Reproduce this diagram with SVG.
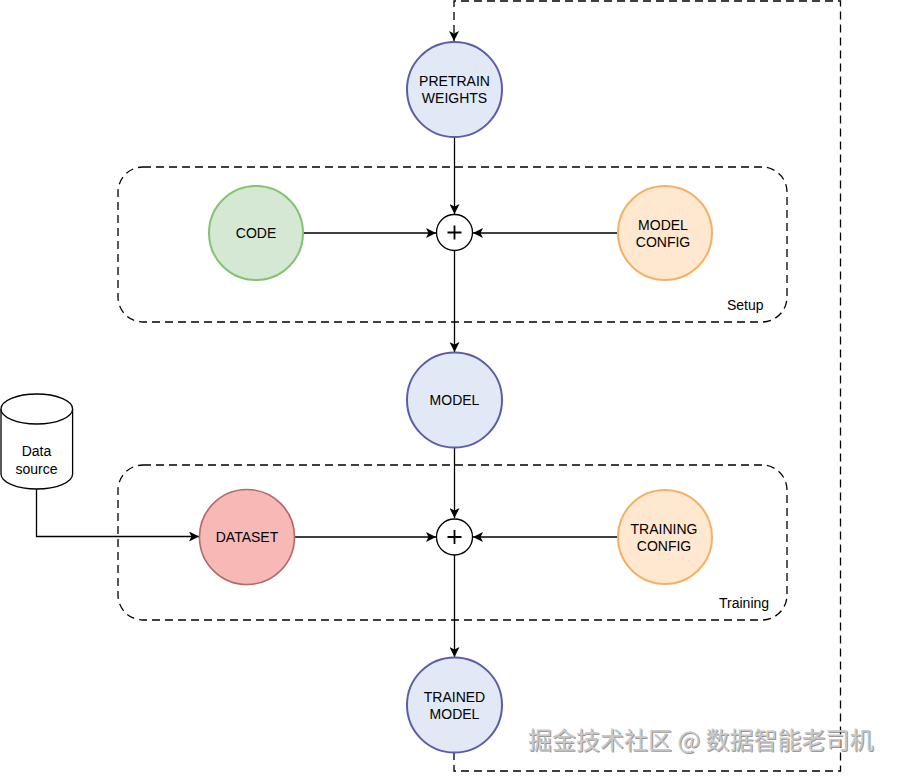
<svg xmlns="http://www.w3.org/2000/svg" width="899" height="777" viewBox="0 0 899 777">
<style>
.lbl{font-family:"Liberation Sans",Arial,sans-serif;font-size:14px;fill:#000;text-anchor:middle}
.small{font-family:"Liberation Sans",Arial,sans-serif;font-size:14px;fill:#000}
.edge{fill:none;stroke:#000;stroke-width:1.3}
.dash{fill:none;stroke:#000;stroke-width:1.3;stroke-dasharray:8 5}
.blue{fill:#e1e9f7;stroke:#5c5ca8;stroke-width:2}
.green{fill:#d5e8d4;stroke:#82c270;stroke-width:2}
.orange{fill:#ffe8cf;stroke:#f2b262;stroke-width:2}
.red{fill:#f7b9b5;stroke:#b5676a;stroke-width:1.6}
.plus{fill:#fff;stroke:#000;stroke-width:1.3}
.wm{font-family:"Noto Sans CJK SC","Noto Sans",sans-serif;font-size:24px}
</style>
<defs>
<marker id="arr" viewBox="0 0 10 10" refX="10" refY="5" markerWidth="10" markerHeight="10" markerUnits="userSpaceOnUse" orient="auto">
<path d="M0,0 L10,5 L0,10 L2.5,5 Z" fill="#000"/>
</marker>
</defs>
<g id="groups">
<rect id="setup" x="118" y="167" width="669" height="155" rx="25" ry="25" class="dash"/>
<text class="small" x="727" y="310">Setup</text>
<rect id="training" x="118" y="465" width="669" height="155" rx="25" ry="25" class="dash"/>
<text class="small" x="719" y="608">Training</text>
</g>
<g id="connectors">
<path class="dash" d="M454,752 V771 H840.5 V1 H454 V41" marker-end="url(#arr)"/>
<path class="edge" d="M454.5,137 V214" marker-end="url(#arr)"/>
<path class="edge" d="M303,233 H436" marker-end="url(#arr)"/>
<path class="edge" d="M617,233 H473" marker-end="url(#arr)"/>
<path class="edge" d="M454.5,251 V352" marker-end="url(#arr)"/>
<path class="edge" d="M454.5,448 V518" marker-end="url(#arr)"/>
<path class="edge" d="M295,537 H436" marker-end="url(#arr)"/>
<path class="edge" d="M617,537 H473" marker-end="url(#arr)"/>
<path class="edge" d="M454.5,555 V657" marker-end="url(#arr)"/>
<path class="edge" d="M36.5,489 V536.5 H199" marker-end="url(#arr)"/>
</g>
<g id="pretrain">
<circle cx="454.5" cy="89.5" r="47.5" class="blue"/>
<text class="lbl" x="454.5" y="86">PRETRAIN</text>
<text class="lbl" x="454.5" y="103">WEIGHTS</text>
</g>
<g id="code">
<circle cx="256" cy="233" r="47" class="green"/>
<text class="lbl" x="256" y="238">CODE</text>
</g>
<g id="modelconfig">
<circle cx="665" cy="233" r="47" class="orange"/>
<text class="lbl" x="663" y="230">MODEL</text>
<text class="lbl" x="663" y="247">CONFIG</text>
</g>
<g id="plus1">
<circle cx="454.5" cy="232.5" r="18" class="plus"/>
<path d="M447.5,232.5 H461.5 M454.5,225.5 V239.5" stroke="#000" stroke-width="1.8"/>
</g>
<g id="model">
<circle cx="454.5" cy="400" r="47.5" class="blue"/>
<text class="lbl" x="454.5" y="405">MODEL</text>
</g>
<g id="datasource">
<path d="M1,409 V474 A35.8,15 0 0 0 72.6,474 V409" fill="#fff" stroke="#000" stroke-width="1.3"/>
<ellipse cx="36.8" cy="409" rx="35.8" ry="15" fill="#fff" stroke="#000" stroke-width="1.3"/>
<text class="lbl" x="36.5" y="456">Data</text>
<text class="lbl" x="36.5" y="474">source</text>
</g>
<g id="dataset">
<circle cx="247" cy="537" r="47.5" class="red"/>
<text class="lbl" x="247" y="542">DATASET</text>
</g>
<g id="trainingconfig">
<circle cx="665" cy="537" r="47" class="orange"/>
<text class="lbl" x="664" y="534">TRAINING</text>
<text class="lbl" x="664" y="551">CONFIG</text>
</g>
<g id="plus2">
<circle cx="454.5" cy="537" r="18" class="plus"/>
<path d="M447.5,537 H461.5 M454.5,530 V544" stroke="#000" stroke-width="1.8"/>
</g>
<g id="trained">
<circle cx="454.5" cy="705" r="47.5" class="blue"/>
<text class="lbl" x="454.5" y="702">TRAINED</text>
<text class="lbl" x="454.5" y="719">MODEL</text>
</g>
<g id="watermark">
<text class="wm" x="529" y="750" fill="#555" opacity="0.6">掘金技术社区 @ 数据智能老司机</text>
<text class="wm" x="528" y="749" fill="#c8c8c8">掘金技术社区 @ 数据智能老司机</text>
</g>
</svg>
